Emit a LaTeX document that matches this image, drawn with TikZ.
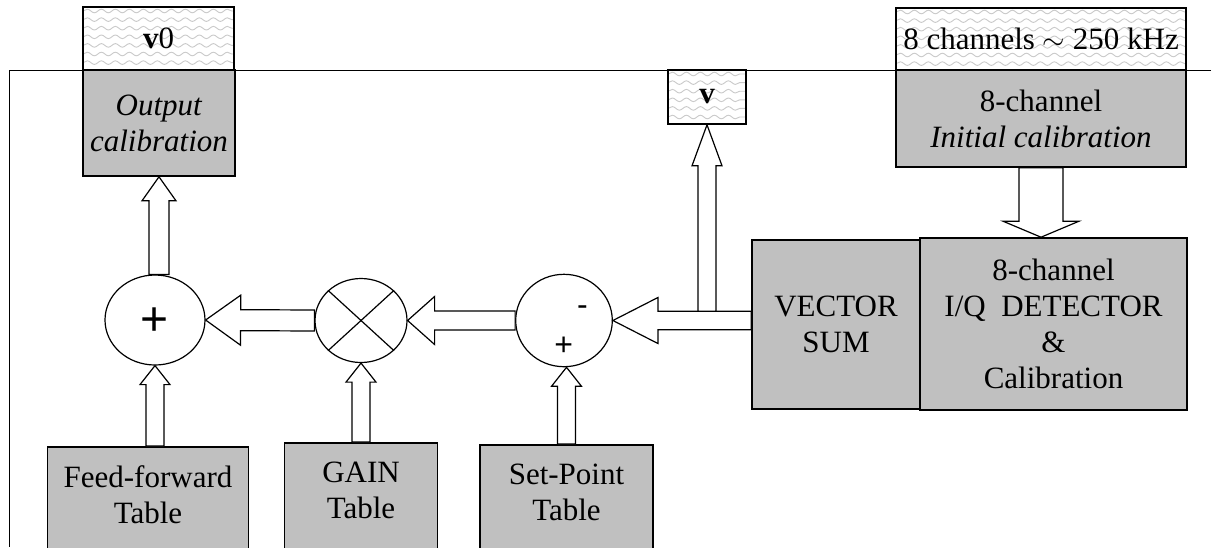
\documentclass[tikz,border=0pt]{standalone}
\usepackage{fontspec}
\setmainfont{Liberation Serif}
\newfontfamily\signfont{Liberation Sans}
\usepackage{tikz}
\usetikzlibrary{calc,shapes.geometric,decorations.pathmorphing}
\definecolor{ink}{HTML}{000000}
\definecolor{boxgray}{HTML}{C0C0C0}
\definecolor{wavegray}{HTML}{CACACA}
\newcommand{\boxfont}{\fontsize{15.5pt}{18pt}\selectfont}
% hollow block arrow: start, tip, half shaft, half head, head length
\newcommand{\hollowarrow}[5]{%
  \coordinate (hb) at ($(#2)!#5!(#1)$);
  \draw[blockarr] ($(#1)!#3!90:(#2)$) -- ($(hb)!#3!90:(#2)$)
    -- ($(hb)!#4!90:(#2)$) -- (#2) -- ($(hb)!#4!-90:(#2)$)
    -- ($(hb)!#3!-90:(#2)$) -- ($(#1)!#3!-90:(#2)$) -- cycle;}
\tikzset{
  frameline/.style={draw=ink,line width=0.5pt},
  graybox/.style={draw=ink,fill=boxgray,line width=0.8pt,inner sep=0pt,
                  align=center,font=\boxfont},
  tablebox/.style={graybox,anchor=north,inner ysep=9.5pt,text depth=80pt},
  wavebox/.style={draw=ink,fill=white,line width=0.8pt,inner sep=0pt,
                  align=center,font=\boxfont,
                  path picture={
                    \foreach \k in {0,...,18}
                      \draw[wavegray,line width=0.45pt,decorate,
                            decoration={snake,segment length=7pt,amplitude=0.9pt}]
                        ([yshift=-\k*4.3pt-2pt]path picture bounding box.north west)
                        -- ([yshift=-\k*4.3pt-2pt]path picture bounding box.north east);
                  }},
  sumnode/.style={ellipse,draw=ink,fill=white,line width=0.6pt,inner sep=0pt},
  signlabel/.style={inner sep=0pt,font=\signfont\fontsize{16pt}{16pt}\selectfont},
  blockarr/.style={draw=ink,fill=white,line width=0.6pt,line join=miter}
}

\begin{document}
\begin{tikzpicture}[x=0.5pt,y=-0.5pt]
    \clip (0,0) rectangle (1213,547);
    % outer frame
    \draw[frameline] (1211,70) -- (9,70) -- (9,547);
    % outputs and inputs on the frame
    \node[wavebox,minimum width=75.5pt,minimum height=31.5pt] (vzero) at (158.5,38.5) {\textbf{v}0};
    \node[graybox,minimum width=76pt,minimum height=53pt] (outcal) at (159,123)
      {\textit{Output}\\\textit{calibration}};
    \node[wavebox,minimum width=39pt,minimum height=27pt] (vout) at (707,97) {\textbf{v}};
    \node[wavebox,minimum width=145pt,minimum height=31pt] (chan) at (1041,39)
      {8 channels $\sim$ 250 kHz};
    \node[graybox,minimum width=145pt,minimum height=48.5pt] (initcal) at (1041,118.5)
      {8-channel\\\textit{Initial calibration}};
    \node[graybox,minimum width=84pt,minimum height=84.5pt] (vsum) at (836,324.5)
      {VECTOR\\SUM};
    \node[graybox,minimum width=133.5pt,minimum height=86pt] (iqdet) at (1053.5,324)
      {8-channel\\I/Q\ \ DETECTOR\\\&\\Calibration};
    % summing and gain stages
    \node[sumnode,minimum width=50pt,minimum height=45pt] (plus) at (155,320) {};
    \node[signlabel,font=\signfont\fontsize{24pt}{24pt}\selectfont] (plussign) at (155,322) {+};
    \node[sumnode,minimum width=46pt,minimum height=42pt] (mult) at (361,320.5) {};
    \draw[line width=0.6pt] (mult.north west) -- (mult.south east)
      (mult.north east) -- (mult.south west);
    \node[sumnode,minimum width=48.3pt,minimum height=46.2pt] (diff) at (564,320.5) {};
    \node[signlabel] (minussign) at (582.5,310.5) {-};
    \node[signlabel] (setsign) at (563.8,346) {+};
    % tables
    \node[tablebox,minimum width=100.5pt] (ff) at (148,446) {Feed-forward\\Table};
    \node[tablebox,minimum width=76.5pt] (gain) at (361,442) {GAIN\\Table};
    \node[tablebox,minimum width=86.5pt] (sp) at (566.5,444) {Set-Point\\Table};
    % connectors
    \coordinate (fftop) at (plus.south |- ff.north);
    \coordinate (spin) at (sp.north |- diff.south);
    \coordinate (plustop) at (outcal.south |- plus.north);
    \coordinate (vsout) at (vsum.west |- diff.east);
    \coordinate (vtap) at ($(vout.south |- diff.east)+(0,-9.3)$);
    \coordinate (iqin) at (initcal.south |- iqdet.north);
    \hollowarrow{fftop}{plus.south}{4.5pt}{7.5pt}{9.5pt}
    \hollowarrow{gain.north}{mult.south}{4.5pt}{7.5pt}{9.5pt}
    \hollowarrow{sp.north}{spin}{4.5pt}{7.5pt}{9.5pt}
    \hollowarrow{plustop}{outcal.south}{5pt}{8.5pt}{12pt}
    \hollowarrow{mult.west}{plus.east}{5.25pt}{12.5pt}{17.5pt}
    \hollowarrow{diff.west}{mult.east}{4.75pt}{12pt}{13.5pt}
    \hollowarrow{vsout}{diff.east}{4.65pt}{11.5pt}{22.5pt}
    \hollowarrow{vtap}{vout.south}{4.5pt}{7.5pt}{20.5pt}
    \hollowarrow{initcal.south}{iqin}{11pt}{19pt}{8pt}
  \end{tikzpicture}
\end{document}
